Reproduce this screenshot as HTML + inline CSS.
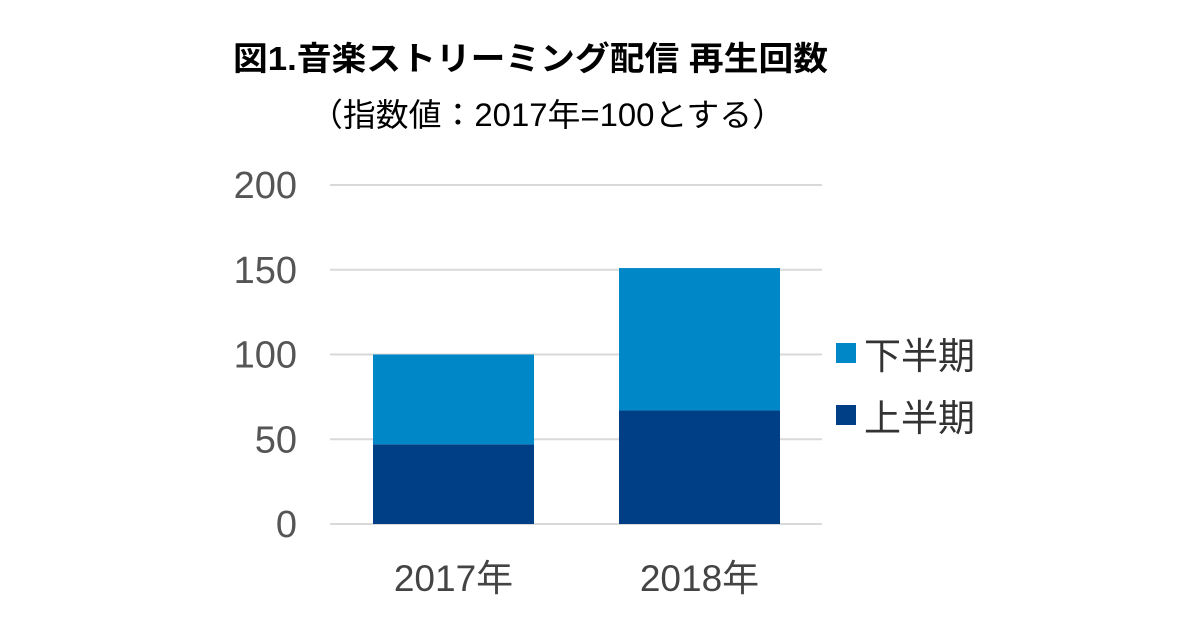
<!DOCTYPE html>
<html><head><meta charset="utf-8">
<style>
body{margin:0;width:1200px;height:630px;background:#fff;overflow:hidden;font-family:"Liberation Sans","Noto Sans CJK JP",sans-serif;}
svg text{font-family:"Liberation Sans","Noto Sans CJK JP",sans-serif;}
</style></head><body>
<svg id="chart" width="1200" height="630">
<text x="233" y="70" font-size="33" font-weight="bold" fill="#000" textLength="595" lengthAdjust="spacingAndGlyphs">図1.音楽ストリーミング配信 再生回数</text>
<text x="310" y="126" font-size="32" fill="#000" textLength="475" lengthAdjust="spacingAndGlyphs">（指数値：2017年=100とする）</text>
<g id="grid"></g><g id="bars"></g><g id="labels"></g>
<rect x="836" y="343" width="20" height="20" fill="#0087C8"/>
<text x="864" y="369" font-size="37" fill="#333">下半期</text>
<rect x="836" y="405" width="20" height="20" fill="#003F86"/>
<text x="864" y="431" font-size="37" fill="#333">上半期</text>
</svg>
<script>
const categories=["2017年","2018年"];
const firstHalf=[47,67];
const secondHalf=[53,84];
const ticks=[0,50,100,150,200];
const NS="http://www.w3.org/2000/svg";
const y0=524,pxPer=(524-185)/200;
const y=v=>y0-v*pxPer;
const barX=[373,619],barW=161;
const g=document.getElementById('grid'),b=document.getElementById('bars'),l=document.getElementById('labels');
function mk(tag,attrs,parent){const e=document.createElementNS(NS,tag);for(const k in attrs)e.setAttribute(k,attrs[k]);parent.appendChild(e);return e;}
ticks.forEach(t=>{
  const ln=mk('line',{x1:330,x2:822,y1:y(t),y2:y(t),stroke:'#d9d9d9','stroke-width':2},g);
  
  
  const tx=mk('text',{x:297,y:y(t)+13,'font-size':38,'text-anchor':'end',fill:'#555'},g);
  tx.textContent=t;
  
  
});
categories.forEach((c,i)=>{
  const r1=mk('rect',{x:barX[i],width:barW,y:y(firstHalf[i]),height:firstHalf[i]*pxPer,fill:'#003F86'},b);
  
  
  const tot=firstHalf[i]+secondHalf[i];
  const r2=mk('rect',{x:barX[i],width:barW,y:y(tot),height:secondHalf[i]*pxPer,fill:'#0087C8'},b);
  
  
  const tx=mk('text',{x:barX[i]+barW/2,y:591,'font-size':37,'text-anchor':'middle',fill:'#444'},l);
  tx.textContent=c;
  
  
});
</script>
</body></html>
